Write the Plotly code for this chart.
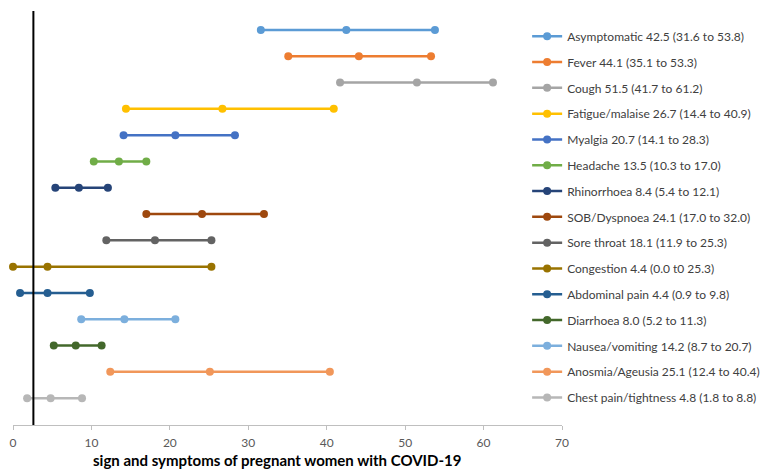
import plotly.graph_objects as go

symptoms = ["Asymptomatic", "Fever", "Cough", "Fatigue/malaise", "Myalgia", "Headache",
            "Rhinorrhoea", "SOB/Dyspnoea", "Sore throat", "Congestion", "Abdominal pain",
            "Diarrhoea", "Nausea/vomiting", "Anosmia/Ageusia", "Chest pain/tightness"]
estimate = [42.5, 44.1, 51.5, 26.7, 20.7, 13.5, 8.4, 24.1, 18.1, 4.4, 4.4, 8.0, 14.2, 25.1, 4.8]
lower = [31.6, 35.1, 41.7, 14.4, 14.1, 10.3, 5.4, 17.0, 11.9, 0.0, 0.9, 5.2, 8.7, 12.4, 1.8]
upper = [53.8, 53.3, 61.2, 40.9, 28.3, 17.0, 12.1, 32.0, 25.3, 25.3, 9.8, 11.3, 20.7, 40.4, 8.8]
legend_labels = [
    "Asymptomatic 42.5 (31.6 to 53.8)", "Fever 44.1 (35.1 to 53.3)", "Cough 51.5 (41.7 to 61.2)",
    "Fatigue/malaise 26.7 (14.4 to 40.9)", "Myalgia 20.7 (14.1 to 28.3)", "Headache 13.5 (10.3 to 17.0)",
    "Rhinorrhoea 8.4 (5.4 to 12.1)", "SOB/Dyspnoea 24.1 (17.0 to 32.0)", "Sore throat 18.1 (11.9 to 25.3)",
    "Congestion 4.4 (0.0 t0 25.3)", "Abdominal pain 4.4 (0.9 to 9.8)", "Diarrhoea 8.0 (5.2 to 11.3)",
    "Nausea/vomiting 14.2 (8.7 to 20.7)", "Anosmia/Ageusia 25.1 (12.4 to 40.4)",
    "Chest pain/tightness 4.8 (1.8 to 8.8)"]
# row (top to bottom) on which each series is drawn in the original chart
plot_row = [0, 1, 2, 3, 4, 5, 6, 7, 8, 9, 10, 12, 11, 13, 14]
reference_line = 2.6
x_ticks = [0, 10, 20, 30, 40, 50, 60, 70]
x_title = "sign and symptoms of pregnant women with COVID-19"

colors = ["#5B9BD5", "#ED7D31", "#A5A5A5", "#FFC000", "#4472C4", "#70AD47", "#264478",
          "#9E480E", "#636363", "#997300", "#255E91", "#43682B", "#7CAFDD", "#F1975A", "#B7B7B7"]

fig = go.Figure()
for i, name in enumerate(symptoms):
    r = plot_row[i]
    fig.add_trace(go.Scatter(
        x=[lower[i], estimate[i], upper[i]], y=[r, r, r],
        mode="lines+markers", name=legend_labels[i], legendgroup=name,
        line=dict(color=colors[i], width=2.5),
        marker=dict(color=colors[i], size=8),
        cliponaxis=False,
    ))

fig.add_shape(type="line", xref="x", yref="paper", x0=reference_line, x1=reference_line,
              y0=0, y1=1, line=dict(color="black", width=2))

fig.add_annotation(text="<b>" + x_title + "</b>", xref="paper", yref="paper",
                   x=0.481, y=-0.0845, xanchor="center", yanchor="middle", showarrow=False,
                   font=dict(size=15, color="#000000"))

fig.update_layout(
    width=764, height=470,
    margin=dict(l=13, r=202, t=11, b=45, autoexpand=False),
    paper_bgcolor="white", plot_bgcolor="white",
    font=dict(family="Lato, Carlito, Calibri, sans-serif", size=12, color="#404040"),
    showlegend=True,
    legend=dict(x=0.9365, xanchor="left", y=0.974, yanchor="top", tracegroupgap=6.8,
                maxheight=460,
                font=dict(size=12, color="#404040"), bgcolor="rgba(0,0,0,0)"),
    xaxis=dict(range=[0, 70], tickvals=x_ticks, showgrid=False, zeroline=False,
               showline=True, linecolor="#BFBFBF", linewidth=1,
               ticks="outside", ticklen=4, tickcolor="#BFBFBF", ticklabelstandoff=3,
               tickfont=dict(size=12, color="#595959")),
    yaxis=dict(range=[15.02, -0.72], showgrid=False, zeroline=False, showticklabels=False,
               showline=False, ticks=""),
)

fig.write_html("out.html", config={"displayModeBar": False},
               post_script="document.body.style.margin='0';")
